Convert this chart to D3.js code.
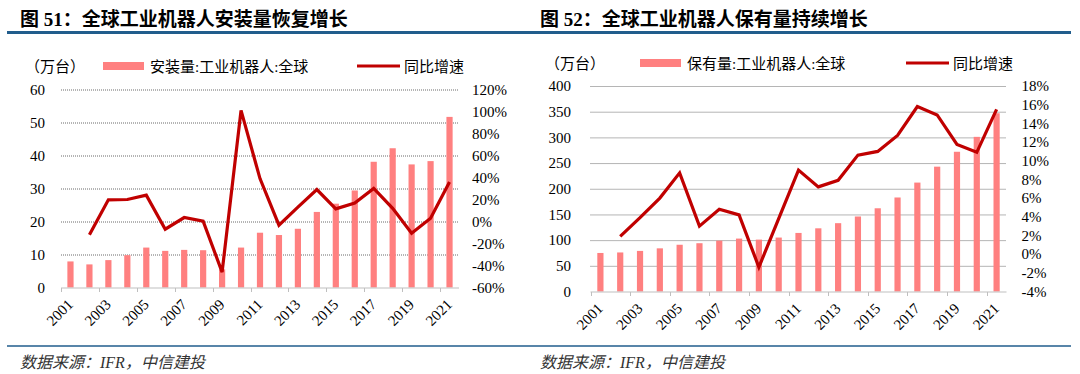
<!DOCTYPE html>
<html>
<head>
<meta charset="utf-8">
<script src="https://cdn.jsdelivr.net/npm/d3@7"></script>
<style>
  html, body { margin: 0; padding: 0; background: #fff; }
  svg { display: block; }
</style>
</head>
<body>
<svg id="chart" width="1080" height="374"></svg>
<script>
// ---------- DATA ----------
const years = ["2001","2002","2003","2004","2005","2006","2007","2008","2009","2010","2011",
               "2012","2013","2014","2015","2016","2017","2018","2019","2020","2021"];
const tickYears = ["2001","2003","2005","2007","2009","2011","2013","2015","2017","2019","2021"];

// Fig 51: annual installations (10k units) and YoY growth (%)
const installs = [7.9, 7.0, 8.3, 9.8, 12.1, 11.1, 11.4, 11.3, 5.5, 12.1, 16.6,
                  15.9, 17.8, 22.9, 25.4, 29.4, 38.1, 42.2, 37.3, 38.3, 51.7];
const installGrowth = [null, -12, 19.7, 20, 24, -7, 3.6, 0.3, -46, 101, 39,
                       -3.3, 13, 29, 11.5, 16.7, 30, 12, -10.6, 3, 36];

// Fig 52: operational stock (10k units) and YoY growth (%)
const stock = [75, 76, 79, 84, 91, 94, 99, 103, 101, 105, 114,
               123, 133, 146, 162, 183, 212, 243, 272, 301, 347];
const stockGrowth = [null, 1.9, 3.9, 6.0, 8.7, 3.0, 4.8, 4.2, -1.4, 3.8, 9.0,
                     7.2, 7.9, 10.6, 11.0, 12.7, 15.8, 14.9, 11.75, 10.9, 15.5];

const leftTicks51 = [0, 10, 20, 30, 40, 50, 60];
const rightTicks51 = [-60, -40, -20, 0, 20, 40, 60, 80, 100, 120];
const leftTicks52 = [0, 50, 100, 150, 200, 250, 300, 350, 400];
const rightTicks52 = [-4, -2, 0, 2, 4, 6, 8, 10, 12, 14, 16, 18];

const titles = ["图 51：全球工业机器人安装量恢复增长", "图 52：全球工业机器人保有量持续增长"];
const barLegends = ["安装量:工业机器人:全球", "保有量:工业机器人:全球"];
const lineLegend = "同比增速";
const unitLabel = "（万台）";
const sourceText = "数据来源：IFR，中信建投";

// ---------- STYLE ----------
const BAR = "#ff8080", LINE = "#c00000", BLUE = "#215d8c";
const SERIF = "'Liberation Serif','Times New Roman','Noto Sans CJK SC',serif";

const svg = d3.select("#chart");
svg.append("rect").attr("width", 1080).attr("height", 374).attr("fill", "#fff");

// header / footer rules
svg.append("line").attr("x1", 7).attr("x2", 1071).attr("y1", 32.5).attr("y2", 32.5)
  .attr("stroke", BLUE).attr("stroke-width", 3);
svg.append("line").attr("x1", 7).attr("x2", 1071).attr("y1", 346).attr("y2", 346)
  .attr("stroke", BLUE).attr("stroke-width", 1.5);

function panel(cfg) {
  const g = svg.append("g");
  // title
  g.append("text").attr("x", cfg.titleX).attr("y", 26)
    .attr("font-family", SERIF).attr("font-weight", "bold").attr("font-size", 19)
    .attr("fill", "#000").text(cfg.title);
  // source
  g.append("text").attr("x", cfg.titleX).attr("y", 367.5)
    .attr("font-family", SERIF).attr("font-style", "italic").attr("font-size", 16)
    .attr("fill", "#333").text(sourceText);

  const x = d3.scaleBand().domain(years).range([cfg.x0, cfg.x1]);
  const y = d3.scaleLinear().domain(cfg.yDom).range([cfg.yBot, cfg.yTop]);
  const y2 = d3.scaleLinear().domain(cfg.y2Dom).range([cfg.yBot, cfg.yTop]);

  // gridlines
  g.append("g").selectAll("line").data(cfg.lTicks.filter(d => d !== cfg.yDom[0])).join("line")
    .attr("x1", cfg.x0).attr("x2", cfg.x1)
    .attr("y1", d => y(d) + 0.5).attr("y2", d => y(d) + 0.5)
    .attr("stroke", "#6a6a6a").attr("stroke-width", 1).attr("stroke-dasharray", "1,1");

  // left axis
  const la = g.append("g").attr("transform", `translate(${cfg.lLabelX},0)`)
    .call(d3.axisLeft(y).tickValues(cfg.lTicks).tickSize(0).tickPadding(0));
  la.select(".domain").remove();
  la.selectAll("text").attr("font-family", SERIF).attr("font-size", 15).attr("fill", "#000")
    .attr("text-anchor", "end");

  // right axis
  const ra = g.append("g").attr("transform", `translate(${cfg.rLabelX},0)`)
    .call(d3.axisRight(y2).tickValues(cfg.rTicks).tickSize(0).tickPadding(0)
      .tickFormat(d => d + "%"));
  ra.select(".domain").remove();
  ra.selectAll("text").attr("font-family", SERIF).attr("font-size", 15).attr("fill", "#000")
    .attr("text-anchor", "start");

  // bars
  const bw = 6.2;
  g.append("g").selectAll("rect").data(years).join("rect")
    .attr("x", (d) => x(d) + x.bandwidth() / 2 - bw / 2)
    .attr("width", bw)
    .attr("y", (d, i) => y(cfg.bars[i]))
    .attr("height", (d, i) => y(0) - y(cfg.bars[i]))
    .attr("fill", BAR);

  // bottom axis
  const xa = g.append("g").attr("transform", `translate(0,${cfg.yBot + 0.5})`);
  xa.append("line").attr("x1", cfg.x0).attr("x2", cfg.x1).attr("stroke", "#bfbfbf").attr("stroke-width", 1);
  xa.selectAll("line.tk").data(tickYears).join("line").attr("class", "tk")
    .attr("x1", d => Math.round(x(d)) + 0.5).attr("x2", d => Math.round(x(d)) + 0.5)
    .attr("y1", 0).attr("y2", 4).attr("stroke", "#bfbfbf");
  xa.selectAll("text").data(tickYears).join("text")
    .attr("transform", d => `translate(${x(d) + x.bandwidth() / 2 + 3.5},17.5) rotate(-45)`)
    .attr("text-anchor", "end")
    .attr("font-family", SERIF).attr("font-size", 15).attr("fill", "#000")
    .text(d => d);

  // line
  const line = d3.line()
    .defined(d => d[1] != null)
    .x(d => x(d[0]) + x.bandwidth() / 2)
    .y(d => y2(d[1]));
  g.append("path").datum(years.map((yr, i) => [yr, cfg.growth[i]]))
    .attr("d", line).attr("fill", "none").attr("stroke", LINE)
    .attr("stroke-width", 3.2).attr("stroke-linejoin", "miter");

  // legend
  const ly = cfg.legY;
  g.append("text").attr("x", cfg.unitX).attr("y", ly + 5.5)
    .attr("font-family", SERIF).attr("font-size", 15).attr("fill", "#000").text(unitLabel);
  g.append("rect").attr("x", cfg.sw1).attr("y", ly - 4).attr("width", 41).attr("height", 8).attr("fill", BAR);
  g.append("text").attr("x", cfg.sw1 + 47).attr("y", ly + 5.5)
    .attr("font-family", SERIF).attr("font-size", 15).attr("fill", "#000").text(cfg.barLegend);
  g.append("line").attr("x1", cfg.sw2).attr("x2", cfg.sw2 + 43).attr("y1", ly).attr("y2", ly)
    .attr("stroke", LINE).attr("stroke-width", 3);
  g.append("text").attr("x", cfg.sw2 + 47).attr("y", ly + 5.5)
    .attr("font-family", SERIF).attr("font-size", 15).attr("fill", "#000").text(lineLegend);
}

panel({
  title: titles[0], titleX: 20, barLegend: barLegends[0],
  x0: 61, x1: 459, yTop: 89.5, yBot: 287.5,
  yDom: [0, 60], y2Dom: [-60, 120],
  lTicks: leftTicks51, rTicks: rightTicks51,
  lLabelX: 45, rLabelX: 472,
  bars: installs, growth: installGrowth,
  legY: 66, unitX: 25, sw1: 103, sw2: 357
});

panel({
  title: titles[1], titleX: 540, barLegend: barLegends[1],
  x0: 590.5, x1: 1006.5, yTop: 86, yBot: 291.5,
  yDom: [0, 400], y2Dom: [-4, 18],
  lTicks: leftTicks52, rTicks: rightTicks52,
  lLabelX: 571, rLabelX: 1021.5,
  bars: stock, growth: stockGrowth,
  legY: 63, unitX: 545, sw1: 640, sw2: 906
});
</script>
</body>
</html>
